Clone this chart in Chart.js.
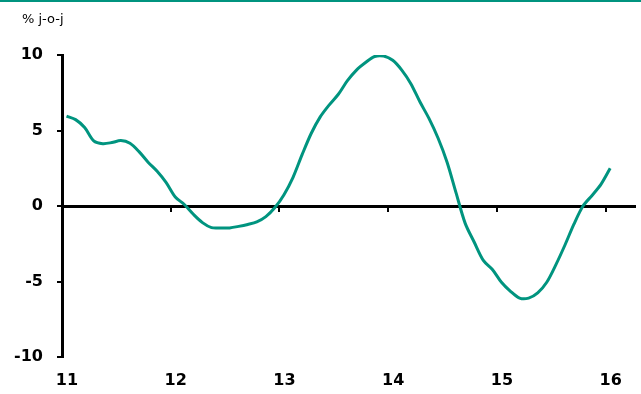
<!DOCTYPE html>
<html>
<head>
<meta charset="utf-8">
<script src="https://cdn.jsdelivr.net/npm/chart.js@4.4.1/dist/chart.umd.min.js"></script>
<style>
  html, body { margin: 0; padding: 0; background: #fff; }
  #wrap { position: relative; width: 641px; height: 394px; }
  #rule { position: absolute; left: 0; top: 0; width: 641px; height: 2px; background: #00947f; }
  canvas { display: block; }
</style>
</head>
<body>
<div id="wrap">
  <canvas id="chart" width="641" height="394"></canvas>
  <div id="rule"></div>
</div>
<script>
// Monthly year-on-year change, Jan 2011 – Jan 2016
const startYear = 2011;
const changeYoY = [
  5.95, 5.72, 5.2, 4.32, 4.13, 4.2, 4.33, 4.15, 3.6, 2.9, 2.3, 1.55,
  0.6, 0.1, -0.55, -1.1, -1.43, -1.45, -1.45, -1.35, -1.22, -1.05, -0.7, -0.1,
  0.75, 1.9, 3.4, 4.8, 5.9, 6.7, 7.4, 8.3, 9.0, 9.5, 9.9, 9.93,
  9.65, 9.0, 8.1, 6.9, 5.8, 4.5, 2.9, 0.85, -1.15, -2.4, -3.6, -4.2,
  -5.05, -5.65, -6.1, -6.1, -5.75, -5.05, -3.9, -2.6, -1.2, 0.0, 0.7, 1.45,
  2.5
];
const yearTicks = [11, 12, 13, 14, 15, 16];
const yearLabels = ['11', '12', '13', '14', '15', '16'];
const valueTicks = [-10, -5, 0, 5, 10];
const valueLabels = ['-10', '-5', '0', '5', '10'];
const unitLabel = '% j-o-j';

const lineColor = '#00947f';
const tickFont = { family: 'DejaVu Sans', size: 16, weight: 'bold' };

// Months sit in the middle of their period on a year axis (11 = 2011)
const points = changeYoY.map((v, i) => ({
  x: (startYear - 2000) + Math.floor(i / 12) + ((i % 12) + 0.5) / 12,
  y: v
}));

const xMin = 11, xMax = 16.27;

// Unit caption in the top-left corner
const unitCaption = {
  id: 'unitCaption',
  afterDraw(chart) {
    const ctx = chart.ctx;
    ctx.save();
    ctx.font = '13px "DejaVu Sans"';
    ctx.fillStyle = '#000';
    ctx.textAlign = 'left';
    ctx.textBaseline = 'middle';
    ctx.fillText(unitLabel, 22, 20);
    ctx.restore();
  }
};

new Chart(document.getElementById('chart'), {
  type: 'line',
  data: {
    datasets: [{
      data: points,
      xAxisID: 'x',
      yAxisID: 'y',
      borderColor: lineColor,
      borderWidth: 3,
      pointRadius: 0,
      tension: 0.3,
      fill: false
    }]
  },
  options: {
    responsive: false,
    animation: false,
    layout: { padding: { left: 8, right: 6, bottom: 3, top: 55 } },
    plugins: {
      legend: { display: false },
      tooltip: { enabled: false },
      title: { display: false }
    },
    scales: {
      // zero line with year tick marks
      x: {
        type: 'linear',
        position: { y: 0 },
        min: xMin,
        max: xMax,
        afterBuildTicks: s => { s.ticks = yearTicks.map(v => ({ value: v })); },
        afterFit: s => { s.height = 0; },
        ticks: { display: false },
        grid: { drawOnChartArea: false, drawTicks: true, tickLength: 4, lineWidth: 2, color: '#000' },
        border: { display: true, color: '#000', width: 3 }
      },
      // year labels along the bottom
      xb: {
        type: 'linear',
        position: 'bottom',
        min: xMin,
        max: xMax,
        afterBuildTicks: s => { s.ticks = yearTicks.map(v => ({ value: v })); },
        afterFit: s => { s.height = 34; },
        ticks: {
          color: '#000', font: tickFont, padding: 14, labelOffset: 5, maxRotation: 0, autoSkip: false,
          callback: (v, i) => yearLabels[i]
        },
        grid: { display: false, drawTicks: false },
        border: { display: false }
      },
      y: {
        type: 'linear',
        position: 'left',
        min: -10,
        max: 10,
        afterBuildTicks: s => { s.ticks = valueTicks.map(v => ({ value: v })); },
        afterFit: s => { s.width = 54; },
        ticks: {
          color: '#000', font: tickFont, padding: 14,
          callback: (v, i) => valueLabels[i]
        },
        grid: { drawOnChartArea: false, drawTicks: true, tickLength: 5, lineWidth: 2, color: '#000' },
        border: { display: true, color: '#000', width: 3 }
      }
    }
  },
  plugins: [unitCaption]
});
</script>
</body>
</html>
